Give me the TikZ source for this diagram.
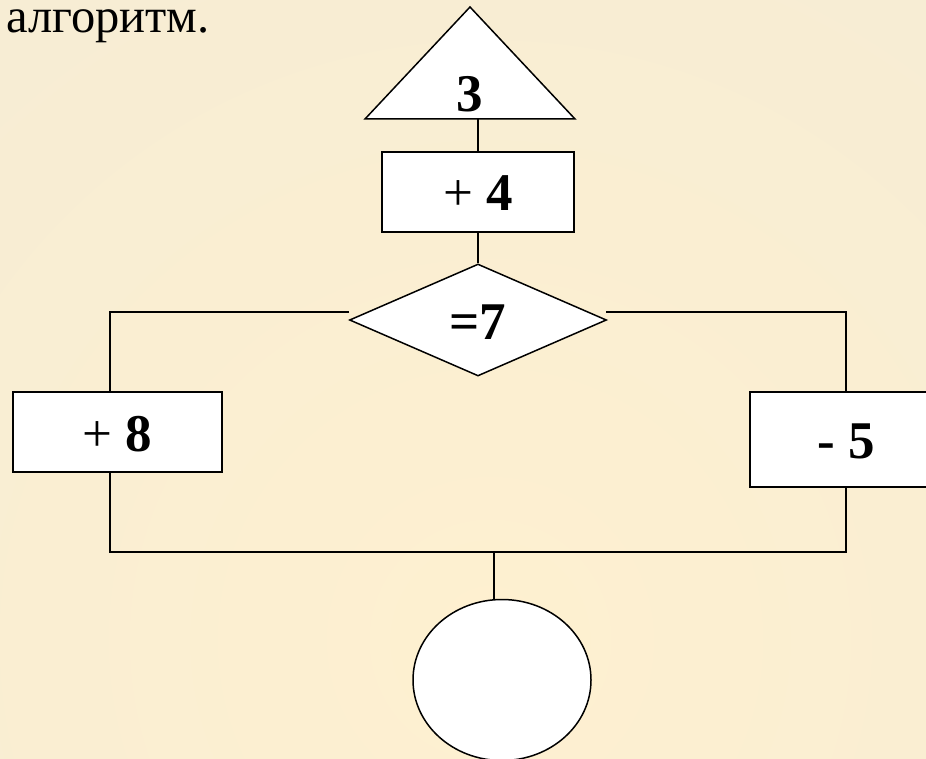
\documentclass[tikz,border=0pt]{standalone}
\usepackage{fontspec}
\setmainfont{Liberation Serif}
\usetikzlibrary{shapes.geometric}
\definecolor{bgout}{HTML}{F3EBD6}
\definecolor{bgin}{HTML}{FEF0D0}
\tikzset{
  wire/.style={draw=black, line width=1.5pt},
  blk/.style={draw=black, fill=white, line width=1.5pt},
  num/.style={font=\fontsize{53}{53}\selectfont\bfseries, text height=38pt, text depth=0pt},
  box/.style={blk, num, rectangle, inner sep=0pt},
  dia/.style={blk, num, diamond, inner sep=0pt, aspect=2.3},
  term/.style={blk, ellipse, inner sep=0pt},
  lab/.style={font=\fontsize{48.5}{48.5}\selectfont, anchor=base west, inner sep=0pt,
    text height=24pt, text depth=12pt},
}

\begin{document}
\begin{tikzpicture}[x=1pt, y=-1pt]
  \useasboundingbox (0,0) rectangle (926,759);
  % background
  \fill[bgout] (0,0) rectangle (926,759);
  \begin{scope}
    \clip (0,0) rectangle (926,759);
    \shade[inner color=bgin, outer color=bgout] (490,640) circle (1200);
  \end{scope}
  \node[lab] (title) at (6,33) {алгоритм.};
  % start block
  \draw[blk] (365,119) -- (470,7) -- (575,119) -- cycle;
  \node[num, anchor=base, inner sep=0pt] (start) at (470,112) {3};
  \coordinate (tribase) at (478,119);
  \node[box, minimum width=192pt, minimum height=80pt] (add4) at (478,192) {{\mdseries +} 4};
  \node[dia, minimum width=257pt, minimum height=112pt] (cond) at (478,320) {=7};
  \node[box, minimum width=209pt, minimum height=80pt] (add8) at (117.5,432) {{\mdseries +} 8};
  \node[box, minimum width=192pt, minimum height=95pt] (sub5) at (846,439.5) {- 5};
  \node[term, minimum width=178pt, minimum height=161pt] (stop) at (502,680) {};
  % joints
  \coordinate (condL) at (349,312);
  \coordinate (condR) at (606,312);
  \coordinate (jl) at (110,312);
  \coordinate (jr) at (846,312);
  \coordinate (jbl) at (110,552);
  \coordinate (jbr) at (846,552);
  \coordinate (jb) at (494,552);
  % connectors
  \draw[wire] (tribase) -- (add4.north);
  \draw[wire] (add4.south) -- (cond.north);
  \draw[wire] (condL) -- (jl) -- (jl |- add8.north);
  \draw[wire] (condR) -- (jr) -- (jr |- sub5.north);
  \draw[wire] (jl |- add8.south) -- (jbl) -- (jbr) -- (jr |- sub5.south);
  \draw[wire] (jb) -- (jb |- stop.north);
\end{tikzpicture}
\end{document}
